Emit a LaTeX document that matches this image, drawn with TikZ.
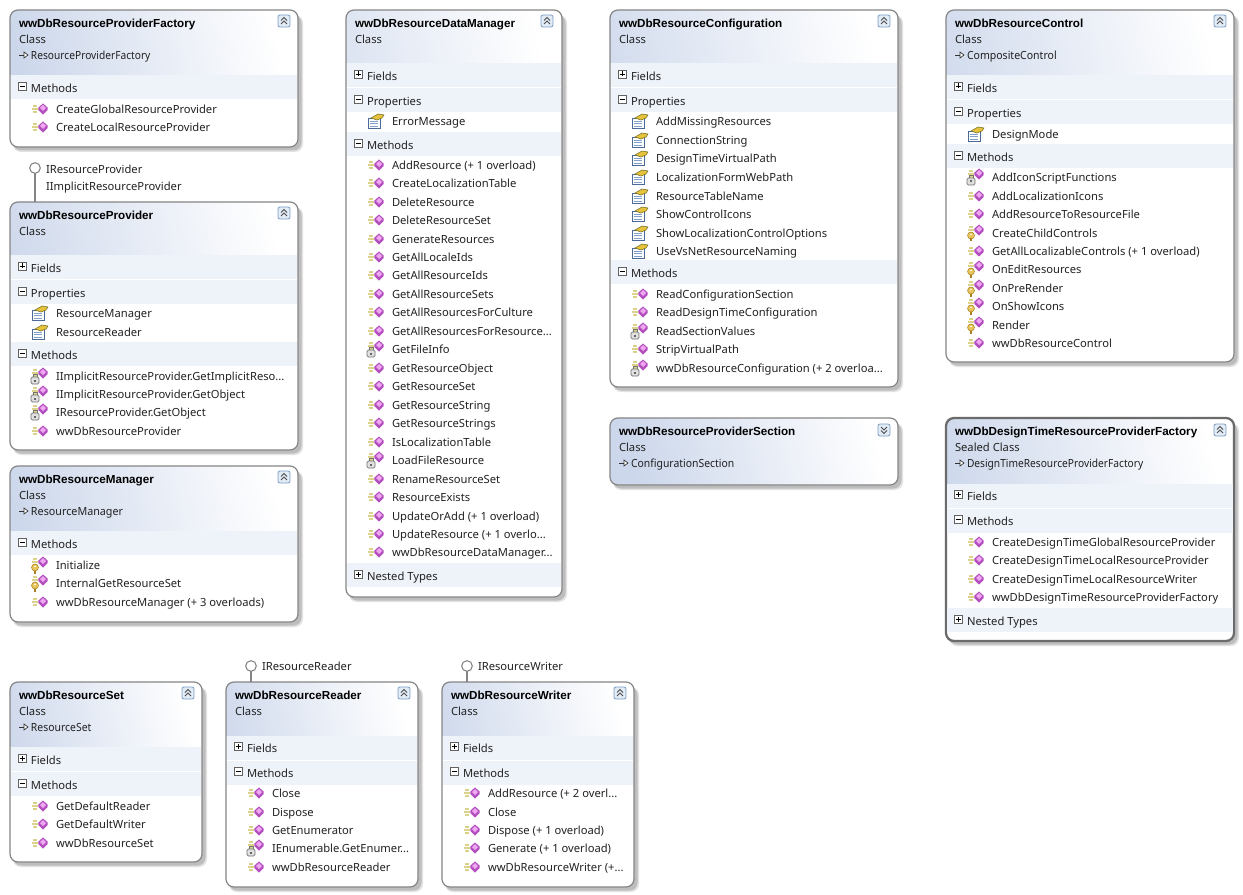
\documentclass[tikz,border=0pt]{standalone}
\usepackage{fontspec}
\setmainfont{Noto Sans}
\newfontfamily\titlefont{Liberation Sans}
\definecolor{hdrblue}{HTML}{CCD7EB}
\definecolor{bandc}{HTML}{EEF2F9}
\definecolor{framec}{HTML}{858585}
\definecolor{shadowa}{HTML}{E2E2E2}
\definecolor{shadowb}{HTML}{BDBDBD}
\definecolor{txtc}{HTML}{222222}
\definecolor{gema}{HTML}{B44FC0}
\definecolor{gemb}{HTML}{F0A8F0}
\definecolor{speedc}{HTML}{DDD28A}
\definecolor{chevb}{HTML}{7C9CC2}
\definecolor{chevf}{HTML}{E2ECF7}
\definecolor{keyf}{HTML}{E9C65A}
\definecolor{keyd}{HTML}{A87F1E}
\definecolor{cardb}{HTML}{4A6A98}
\definecolor{cardl}{HTML}{7FA0CC}
\definecolor{handc}{HTML}{E6C23C}
\definecolor{handd}{HTML}{6E6A20}
\newcounter{autonode}
\tikzset{
  x=0.75pt,y=-0.75pt,
  framebase/.style={draw=framec,line width=0.9pt,fill=white,rounded corners=6pt,inner sep=0pt,outer sep=0pt,anchor=north west},
  selframe/.style={framebase,draw=black!58,line width=1.7pt},
  lbl/.style={inner sep=0pt,outer sep=0pt,anchor=west,yshift=-1.1pt,text height=7pt,text depth=2pt,font=\fontsize{8.4pt}{10pt}\selectfont,text=txtc},
  ttl/.style={lbl,font=\fontsize{8.75pt}{10pt}\titlefont\bfseries,text=black},
  lolli/.style={circle,draw=framec,fill=white,line width=0.8pt,minimum size=8pt,inner sep=0pt,outer sep=0pt},
  lolline/.style={draw=framec,line width=1.1pt},
}
\newcommand\tnode[3]{\stepcounter{autonode}\node[#1] (t\arabic{autonode}) at #2 {#3};}
% name x1 y1 x2 y2 headerbottom style
\newcommand\classframe[7]{%
  \pgfmathsetmacro\fw{(#4-#2)*0.75}\pgfmathsetmacro\fh{(#5-#3)*0.75}\pgfmathsetmacro\hh{(#6-#3)*0.75}%
  \fill[shadowa,rounded corners=6pt] (#2+3,#3+5) rectangle (#4+5,#5+5);
  \fill[shadowb,rounded corners=6pt] (#2+3,#3+5) rectangle (#4+3.5,#5+3.5);
  \node[#7,minimum width=\fw pt,minimum height=\fh pt,
    path picture={\shade[sharp corners,left color=hdrblue,right color=white,shading angle=103]
      (path picture bounding box.north west) rectangle
      ([yshift=-\hh pt]path picture bounding box.north east);}]
    (#1) at (#2,#3) {};
}
\newcommand\chev[3]{%
  \fill[chevf,draw=chevb,line width=0.6pt,rounded corners=1.5pt] (#1-6,#2-6) rectangle (#1+6,#2+6);
  \draw[black!70,line width=0.7pt] (#1-3,#2-0.5*#3) -- (#1,#2-3.5*#3) -- (#1+3,#2-0.5*#3)
     (#1-3,#2+3*#3) -- (#1,#2+0*#3) -- (#1+3,#2+3*#3);
}
\newcommand\baseof[4][0.93]{%
  \draw[black!80,line width=0.5pt] (#2,#3) -- (#2+5,#3);
  \draw[black!80,fill=white,line width=0.5pt] (#2+5,#3-3) -- (#2+9,#3) -- (#2+5,#3+3) -- cycle;
  \tnode{lbl}{(#2+12,#3)}{\scalebox{#1}[1]{#4}}
}
\newcommand\titleblock[5]{% x1 x2 ytitle title kind
  \tnode{ttl}{(#1+9,#3)}{#4}
  \tnode{lbl}{(#1+9,#3+16)}{#5}
}
\newcommand\band[5]{% x1 x2 y sign label
  \fill[bandc] (#1+1,#3-12) rectangle (#2-1,#3+12);
  \draw[black!62,fill=white,line width=0.5pt] (#1+8.5,#3-5) rectangle (#1+16.5,#3+3);
  \draw[black,line width=0.6pt] (#1+10,#3-1) -- (#1+15,#3-1);
  \ifnum#4=1 \draw[black,line width=0.6pt] (#1+12.5,#3-3.5) -- (#1+12.5,#3+1.5);\fi
  \tnode{lbl}{(#1+21,#3+0.5)}{#5}
}
\newcommand\gem[2]{%
  \fill[gema] (#1-4.6,#2-1.5) -- (#1,#2-5.5) -- (#1+4.6,#2-1.5) -- (#1+4.6,#2+1) -- (#1,#2+5.5) -- (#1-4.6,#2+1) -- cycle;
  \fill[gemb] (#1-3,#2-1) -- (#1,#2-4) -- (#1+3,#2-1) -- (#1,#2+2) -- cycle;
}
\newcommand\speed[2]{%
  \draw[speedc,line width=0.8pt] (#1-10,#2-3) -- (#1-6,#2-3) (#1-11,#2) -- (#1-5,#2) (#1-10,#2+3) -- (#1-6,#2+3);
}
\newcommand\rowM[3]{%
  \speed{#1+33}{#2}\gem{#1+33}{#2}
  \tnode{lbl}{(#1+46,#2)}{#3}
}
\newcommand\rowL[3]{%
  \speed{#1+33}{#2-3}
  \fill[black!12,draw=black!55,line width=0.5pt,rounded corners=1pt] (#1+21,#2+1) rectangle (#1+29,#2+8);
  \draw[black!55,line width=0.6pt] (#1+23,#2+1) -- (#1+23,#2-2) -- (#1+27,#2-2) -- (#1+27,#2+1);
  \fill[black!60] (#1+24,#2+3.5) rectangle (#1+26,#2+5.5);
  \gem{#1+33}{#2-3}
  \tnode{lbl}{(#1+46,#2)}{#3}
}
\newcommand\rowK[3]{%
  \speed{#1+33}{#2-3}
  \fill[keyf,draw=keyd,line width=0.4pt] (#1+25,#2+2.5) circle[radius=2.6pt];
  \fill[white] (#1+25,#2+1.5) circle[radius=0.7pt];
  \draw[keyd,line width=0.8pt] (#1+25,#2+5.5) -- (#1+25,#2+8.5);
  \gem{#1+33}{#2-3}
  \tnode{lbl}{(#1+46,#2)}{#3}
}
\newcommand\rowP[3]{%
  \fill[white,draw=cardb,line width=0.6pt] (#1+22,#2-3) rectangle (#1+34,#2+7);
  \draw[cardl,line width=0.6pt] (#1+24,#2) -- (#1+32,#2) (#1+24,#2+2.5) -- (#1+32,#2+2.5) (#1+24,#2+5) -- (#1+32,#2+5);
  \fill[handc,draw=handd,line width=0.4pt] (#1+25,#2-3) -- (#1+32,#2-7) -- (#1+38,#2-6) -- (#1+36,#2-3) -- (#1+31,#2-1) -- cycle;
  \tnode{lbl}{(#1+46,#2)}{#3}
}
\begin{document}
\begin{tikzpicture}
\fill[white] (0,0) rectangle (1243,895);
\useasboundingbox (0,0) rectangle (1243,895);

% ---------- wwDbResourceProviderFactory
\classframe{factory}{10}{10}{298}{147}{75}{framebase}
\titleblock{10}{298}{23}{wwDbResourceProviderFactory}{Class}
\baseof[0.91]{19}{55}{ResourceProviderFactory}
\chev{284}{21}{1}
\band{10}{298}{87}{0}{Methods}
\rowM{10}{109}{CreateGlobalResourceProvider}
\rowM{10}{127}{CreateLocalResourceProvider}

% ---------- wwDbResourceProvider
\node[lolli] (ifaceA) at (35,168) {};
\node[lbl] (ifaceAa) at (46,169) {IResourceProvider};
\node[lbl] (ifaceAb) at (46,186) {IImplicitResourceProvider};
\classframe{provider}{10}{202}{298}{450}{255}{framebase}
\draw[lolline] (ifaceA.south) -- (ifaceA.south |- provider.north);
\titleblock{10}{298}{215}{wwDbResourceProvider}{Class}
\chev{284}{213}{1}
\band{10}{298}{267}{1}{Fields}
\band{10}{298}{292}{0}{Properties}
\rowP{10}{313}{ResourceManager}
\rowP{10}{332}{ResourceReader}
\band{10}{298}{354}{0}{Methods}
\rowL{10}{376}{IImplicitResourceProvider.GetImplicitReso...}
\rowL{10}{394}{IImplicitResourceProvider.GetObject}
\rowL{10}{412}{IResourceProvider.GetObject}
\rowM{10}{431}{wwDbResourceProvider}

% ---------- wwDbResourceManager
\classframe{manager}{10}{466}{298}{622}{530}{framebase}
\titleblock{10}{298}{479}{wwDbResourceManager}{Class}
\baseof[0.96]{19}{511}{ResourceManager}
\chev{284}{477}{1}
\band{10}{298}{543}{0}{Methods}
\rowK{10}{565}{Initialize}
\rowK{10}{583}{InternalGetResourceSet}
\rowM{10}{602}{wwDbResourceManager (+ 3 overloads)}

% ---------- wwDbResourceDataManager
\classframe{datamanager}{346}{10}{562}{597}{63}{framebase}
\titleblock{346}{562}{23}{wwDbResourceDataManager}{Class}
\chev{547}{21}{1}
\band{346}{562}{75}{1}{Fields}
\band{346}{562}{100}{0}{Properties}
\rowP{346}{121}{ErrorMessage}
\band{346}{562}{144}{0}{Methods}
\rowM{346}{165}{AddResource (+ 1 overload)}
\rowM{346}{183}{CreateLocalizationTable}
\rowM{346}{202}{DeleteResource}
\rowM{346}{220}{DeleteResourceSet}
\rowM{346}{239}{GenerateResources}
\rowM{346}{257}{GetAllLocaleIds}
\rowM{346}{275}{GetAllResourceIds}
\rowM{346}{294}{GetAllResourceSets}
\rowM{346}{312}{GetAllResourcesForCulture}
\rowM{346}{331}{GetAllResourcesForResource...}
\rowL{346}{349}{GetFileInfo}
\rowM{346}{368}{GetResourceObject}
\rowM{346}{386}{GetResourceSet}
\rowM{346}{405}{GetResourceString}
\rowM{346}{423}{GetResourceStrings}
\rowM{346}{442}{IsLocalizationTable}
\rowL{346}{460}{LoadFileResource}
\rowM{346}{479}{RenameResourceSet}
\rowM{346}{497}{ResourceExists}
\rowM{346}{516}{UpdateOrAdd (+ 1 overload)}
\rowM{346}{534}{UpdateResource (+ 1 overlo...}
\rowM{346}{552}{wwDbResourceDataManager...}
\band{346}{562}{575}{1}{Nested Types}

% ---------- wwDbResourceConfiguration
\classframe{config}{610}{10}{898}{387}{63}{framebase}
\titleblock{610}{898}{23}{wwDbResourceConfiguration}{Class}
\chev{884}{21}{1}
\band{610}{898}{75}{1}{Fields}
\band{610}{898}{100}{0}{Properties}
\rowP{610}{121}{AddMissingResources}
\rowP{610}{140}{ConnectionString}
\rowP{610}{158}{DesignTimeVirtualPath}
\rowP{610}{177}{LocalizationFormWebPath}
\rowP{610}{196}{ResourceTableName}
\rowP{610}{214}{ShowControlIcons}
\rowP{610}{233}{ShowLocalizationControlOptions}
\rowP{610}{251}{UseVsNetResourceNaming}
\band{610}{898}{272}{0}{Methods}
\rowM{610}{294}{ReadConfigurationSection}
\rowM{610}{312}{ReadDesignTimeConfiguration}
\rowL{610}{331}{ReadSectionValues}
\rowM{610}{349}{StripVirtualPath}
\rowL{610}{368}{wwDbResourceConfiguration (+ 2 overloa...}

% ---------- wwDbResourceProviderSection
\classframe{section}{610}{418}{898}{485}{485}{framebase}
\titleblock{610}{898}{431}{wwDbResourceProviderSection}{Class}
\baseof{619}{463}{ConfigurationSection}
\chev{884}{430}{-1}

% ---------- wwDbResourceControl
\classframe{control}{946}{10}{1234}{362}{75}{framebase}
\titleblock{946}{1234}{23}{wwDbResourceControl}{Class}
\baseof[0.94]{955}{55}{CompositeControl}
\chev{1220}{21}{1}
\band{946}{1234}{87}{1}{Fields}
\band{946}{1234}{112}{0}{Properties}
\rowP{946}{134}{DesignMode}
\band{946}{1234}{156}{0}{Methods}
\rowL{946}{177}{AddIconScriptFunctions}
\rowM{946}{196}{AddLocalizationIcons}
\rowM{946}{214}{AddResourceToResourceFile}
\rowK{946}{233}{CreateChildControls}
\rowM{946}{251}{GetAllLocalizableControls (+ 1 overload)}
\rowK{946}{269}{OnEditResources}
\rowK{946}{288}{OnPreRender}
\rowK{946}{306}{OnShowIcons}
\rowK{946}{325}{Render}
\rowM{946}{343}{wwDbResourceControl}

% ---------- wwDbDesignTimeResourceProviderFactory
\classframe{designtime}{946}{418}{1234}{641}{483}{selframe}
\titleblock{946}{1234}{431}{wwDbDesignTimeResourceProviderFactory}{Sealed Class}
\baseof[0.91]{955}{463}{DesignTimeResourceProviderFactory}
\chev{1220}{430}{1}
\band{946}{1234}{495.5}{1}{Fields}
\band{946}{1234}{520.5}{0}{Methods}
\rowM{946}{542}{CreateDesignTimeGlobalResourceProvider}
\rowM{946}{560}{CreateDesignTimeLocalResourceProvider}
\rowM{946}{579}{CreateDesignTimeLocalResourceWriter}
\rowM{946}{597}{wwDbDesignTimeResourceProviderFactory}
\band{946}{1234}{620}{1}{Nested Types}

% ---------- wwDbResourceSet
\classframe{rset}{10}{682}{202}{862}{746}{framebase}
\titleblock{10}{202}{695}{wwDbResourceSet}{Class}
\baseof{19}{727}{ResourceSet}
\chev{188}{693}{1}
\band{10}{202}{759}{1}{Fields}
\band{10}{202}{784}{0}{Methods}
\rowM{10}{806}{GetDefaultReader}
\rowM{10}{824}{GetDefaultWriter}
\rowM{10}{843}{wwDbResourceSet}

% ---------- wwDbResourceReader
\node[lolli] (ifaceB) at (251,666) {};
\node[lbl] (ifaceBa) at (262,666) {IResourceReader};
\classframe{reader}{226}{682}{418}{887}{735}{framebase}
\draw[lolline] (ifaceB.south) -- (ifaceB.south |- reader.north);
\titleblock{226}{418}{695}{wwDbResourceReader}{Class}
\chev{404}{693}{1}
\band{226}{418}{747.5}{1}{Fields}
\band{226}{418}{772.5}{0}{Methods}
\rowM{226}{793}{Close}
\rowM{226}{812}{Dispose}
\rowM{226}{830}{GetEnumerator}
\rowL{226}{848}{IEnumerable.GetEnumer...}
\rowM{226}{867}{wwDbResourceReader}

% ---------- wwDbResourceWriter
\node[lolli] (ifaceC) at (467,666) {};
\node[lbl] (ifaceCa) at (478,666) {IResourceWriter};
\classframe{writer}{442}{682}{634}{887}{735}{framebase}
\draw[lolline] (ifaceC.south) -- (ifaceC.south |- writer.north);
\titleblock{442}{634}{695}{wwDbResourceWriter}{Class}
\chev{620}{693}{1}
\band{442}{634}{747.5}{1}{Fields}
\band{442}{634}{772.5}{0}{Methods}
\rowM{442}{793}{AddResource (+ 2 overl...}
\rowM{442}{812}{Close}
\rowM{442}{830}{Dispose (+ 1 overload)}
\rowM{442}{848}{Generate (+ 1 overload)}
\rowM{442}{867}{wwDbResourceWriter (+...}
\end{tikzpicture}
\end{document}
